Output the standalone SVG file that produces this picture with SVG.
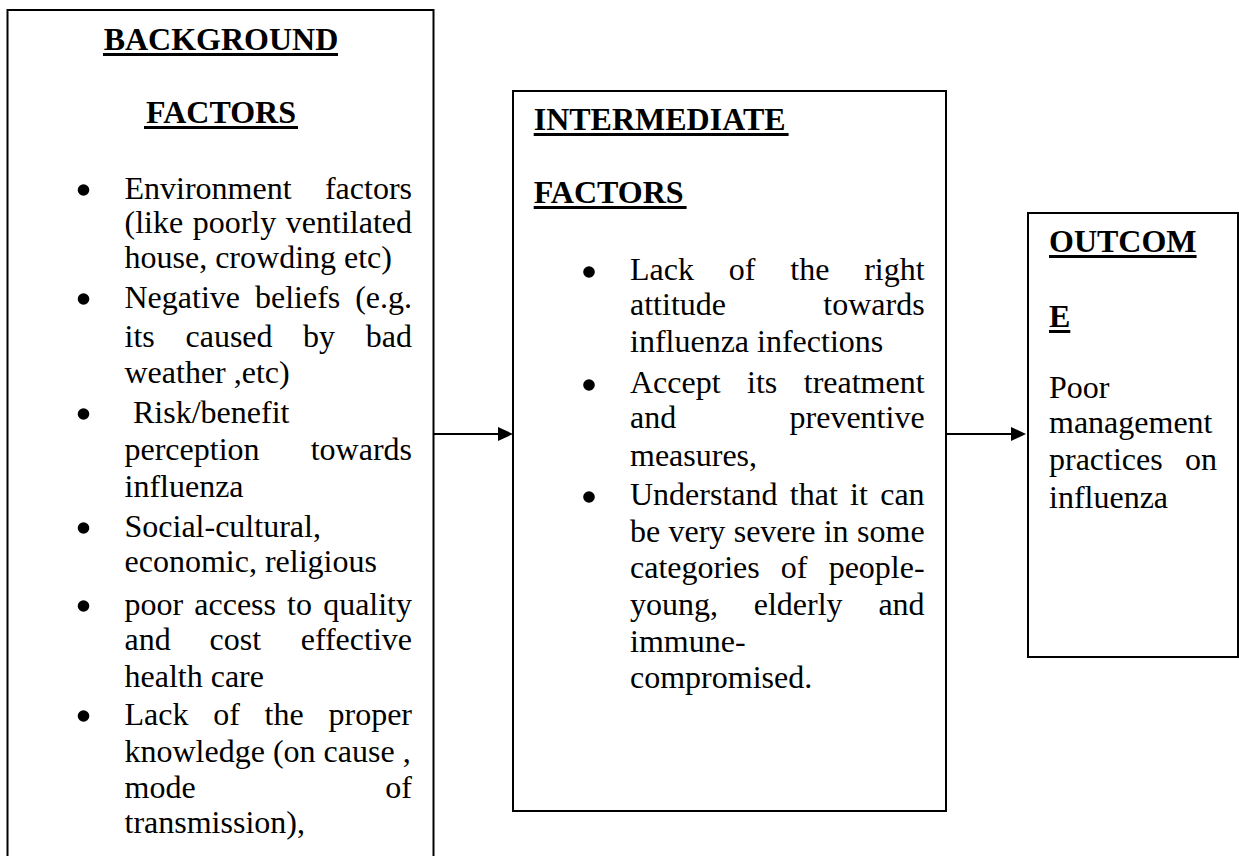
<svg xmlns="http://www.w3.org/2000/svg" width="1239" height="856" viewBox="0 0 1239 856">
<style>
.box{fill:#fff;stroke:#000;stroke-width:2}
.t{font-family:"Liberation Serif","Times New Roman",serif;font-size:32px;fill:#000}
.h{font-family:"Liberation Serif","Times New Roman",serif;font-size:32px;font-weight:bold;fill:#000}
.e{text-anchor:end}
.ul{stroke:#000;stroke-width:3}
.conn{stroke:#000;stroke-width:2;fill:none;marker-end:url(#arr)}
</style>
<defs>
<marker id="arr" markerUnits="userSpaceOnUse" markerWidth="15" markerHeight="14" refX="7" refY="7" orient="auto">
<path d="M0,0 L15,7 L0,14 z" fill="#000"/>
</marker>
</defs>
<rect width="1239" height="856" fill="#fff"/>

<g id="background-factors">
<rect class="box" x="7.5" y="10" width="426" height="900"/>
<text class="h" x="221" y="50" text-anchor="middle">BACKGROUND</text>
<line class="ul" x1="103" y1="54.5" x2="338" y2="54.5"/>
<text class="h" x="221" y="123" text-anchor="middle">FACTORS</text>
<line class="ul" x1="144" y1="127.5" x2="298" y2="127.5"/>
<g fill="#000">
<circle cx="83.5" cy="190" r="5.8"/>
<circle cx="83.5" cy="299" r="5.8"/>
<circle cx="83.5" cy="414" r="5.8"/>
<circle cx="83.5" cy="528" r="5.8"/>
<circle cx="83.5" cy="606" r="5.8"/>
<circle cx="83.5" cy="716" r="5.8"/>
</g>
<text class="t" y="199"><tspan x="124.5">Environment</tspan><tspan x="412" class="e">factors</tspan></text>
<text class="t" y="233"><tspan x="124.5">(like</tspan><tspan x="192.7">poorly</tspan><tspan x="412" class="e">ventilated</tspan></text>
<text class="t" x="124.5" y="268">house, crowding etc)</text>
<text class="t" y="308"><tspan x="124.5">Negative</tspan><tspan x="255">beliefs</tspan><tspan x="412" class="e">(e.g.</tspan></text>
<text class="t" y="347"><tspan x="124.5">its</tspan><tspan x="185.5">caused</tspan><tspan x="303">by</tspan><tspan x="412" class="e">bad</tspan></text>
<text class="t" x="124.5" y="383">weather ,etc)</text>
<text class="t" x="133" y="423">Risk/benefit</text>
<text class="t" y="460"><tspan x="124.5">perception</tspan><tspan x="412" class="e">towards</tspan></text>
<text class="t" x="124.5" y="497">influenza</text>
<text class="t" x="124.5" y="537">Social-cultural,</text>
<text class="t" x="124.5" y="572">economic, religious</text>
<text class="t" y="615"><tspan x="124.5">poor</tspan><tspan x="194.3">access</tspan><tspan x="287">to</tspan><tspan x="412" class="e">quality</tspan></text>
<text class="t" y="650"><tspan x="124.5">and</tspan><tspan x="209.6">cost</tspan><tspan x="412" class="e">effective</tspan></text>
<text class="t" x="124.5" y="687">health care</text>
<text class="t" y="725"><tspan x="124.5">Lack</tspan><tspan x="213.2">of</tspan><tspan x="264.6">the</tspan><tspan x="412" class="e">proper</tspan></text>
<text class="t" x="124.5" y="762">knowledge (on cause ,</text>
<text class="t" y="798"><tspan x="124.5">mode</tspan><tspan x="412" class="e">of</tspan></text>
<text class="t" x="124.5" y="833">transmission),</text>
</g>

<g id="intermediate-factors">
<rect class="box" x="513" y="91" width="433" height="720"/>
<text class="h" x="533.7" y="130">INTERMEDIATE</text>
<line class="ul" x1="533.7" y1="134.5" x2="788.6" y2="134.5"/>
<text class="h" x="533.7" y="203">FACTORS</text>
<line class="ul" x1="533.7" y1="207.5" x2="686.6" y2="207.5"/>
<g fill="#000">
<circle cx="589" cy="272" r="5.8"/>
<circle cx="589" cy="385" r="5.8"/>
<circle cx="589" cy="497" r="5.8"/>
</g>
<text class="t" y="280"><tspan x="630">Lack</tspan><tspan x="728.8">of</tspan><tspan x="790.3">the</tspan><tspan x="924.6" class="e">right</tspan></text>
<text class="t" y="315"><tspan x="630">attitude</tspan><tspan x="924.6" class="e">towards</tspan></text>
<text class="t" x="630" y="352">influenza infections</text>
<text class="t" y="393"><tspan x="630">Accept</tspan><tspan x="747">its</tspan><tspan x="924.6" class="e">treatment</tspan></text>
<text class="t" y="428"><tspan x="630">and</tspan><tspan x="924.6" class="e">preventive</tspan></text>
<text class="t" x="630" y="466">measures,</text>
<text class="t" y="505"><tspan x="630">Understand</tspan><tspan x="789.8">that</tspan><tspan x="850.1">it</tspan><tspan x="924.6" class="e">can</tspan></text>
<text class="t" y="542"><tspan x="630">be</tspan><tspan x="668.5">very</tspan><tspan x="733.7">severe</tspan><tspan x="823.7">in</tspan><tspan x="924.6" class="e">some</tspan></text>
<text class="t" y="578"><tspan x="630">categories</tspan><tspan x="780.8">of</tspan><tspan x="924.6" class="e">people-</tspan></text>
<text class="t" y="615"><tspan x="630">young,</tspan><tspan x="753.7">elderly</tspan><tspan x="924.6" class="e">and</tspan></text>
<text class="t" x="630" y="652">immune-</text>
<text class="t" x="630" y="688">compromised.</text>
</g>

<g id="outcome">
<rect class="box" x="1028" y="213" width="210" height="444"/>
<text class="h" x="1049" y="252">OUTCOM</text>
<line class="ul" x1="1049" y1="256.5" x2="1196.6" y2="256.5"/>
<text class="h" x="1049" y="327">E</text>
<line class="ul" x1="1049" y1="331.5" x2="1070.3" y2="331.5"/>
<text class="t" x="1049" y="398">Poor</text>
<text class="t" x="1049" y="433">management</text>
<text class="t" y="470"><tspan x="1049">practices</tspan><tspan x="1217" class="e">on</tspan></text>
<text class="t" x="1049" y="508">influenza</text>
</g>

<g id="connectors">
<line class="conn" x1="434" y1="434" x2="505" y2="434"/>
<line class="conn" x1="946" y1="434" x2="1018" y2="434"/>
</g>
</svg>
